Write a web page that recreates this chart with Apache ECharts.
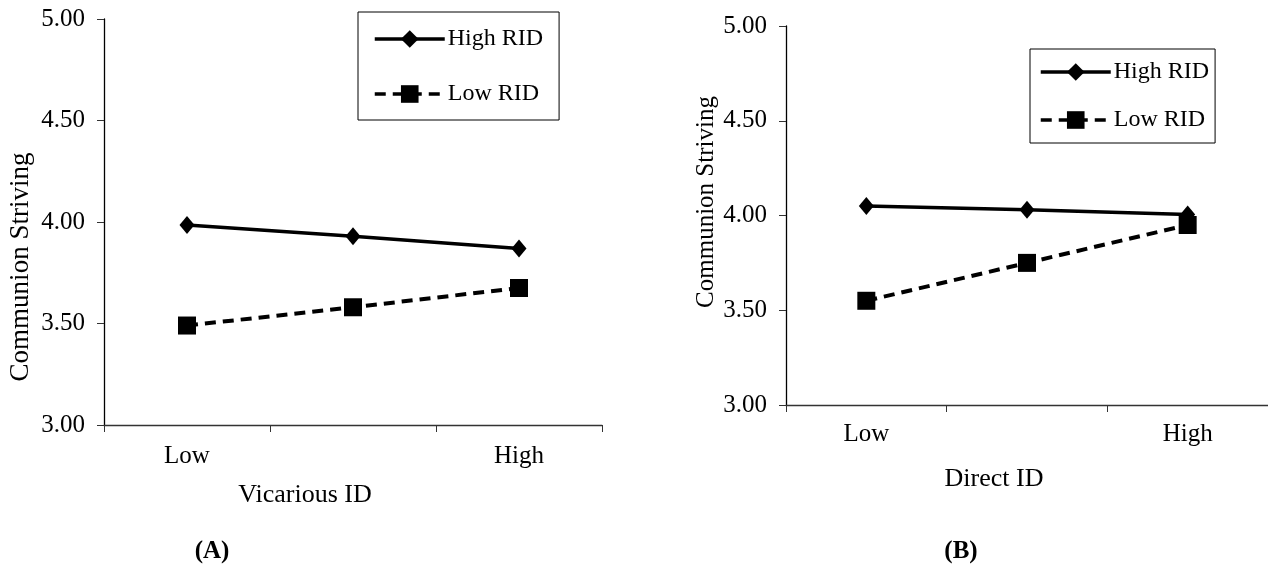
<!DOCTYPE html>
<html>
<head>
<meta charset="utf-8">
<script src="https://cdn.jsdelivr.net/npm/echarts@6/dist/echarts.min.js"></script>
<style>
html,body{margin:0;padding:0;background:#fff;}
#chart{width:1268px;height:575px;}
</style>
</head>
<body>
<div id="chart"></div>
<script>
// ---- data ----
const categories = ['Low', 'Medium', 'High'];
const tickLabels = ['Low', '', 'High'];
const yTicks = [3.0, 3.5, 4.0, 4.5, 5.0];
const seriesNames = ['High RID', 'Low RID'];
const panelA_high = [3.985, 3.93, 3.87];
const panelA_low = [3.49, 3.58, 3.675];
const panelB_high = [4.05, 4.03, 4.005];
const panelB_low = [3.55, 3.75, 3.95];
const yTitle = 'Communion Striving';
const xTitleA = 'Vicarious ID';
const xTitleB = 'Direct ID';
const panelLabels = ['(A)', '(B)'];

const FONT = 'Liberation Serif';
const chart = echarts.init(document.getElementById('chart'), null, {renderer: 'canvas'});

function xAxisCfg(gi, margin) {
  return {
    type: 'category', gridIndex: gi, data: categories, boundaryGap: true,
    axisLine: {lineStyle: {color: '#333', width: 1.3}},
    axisTick: {show: true, length: 7, lineStyle: {color: '#333'}},
    axisLabel: {
      color: '#000', fontFamily: FONT, fontSize: 25, margin: margin,
      formatter: (v, i) => tickLabels[i]
    },
    splitLine: {show: false}
  };
}
function yAxisCfg(gi) {
  return {
    type: 'value', gridIndex: gi, min: yTicks[0], max: yTicks[yTicks.length - 1], interval: 0.5,
    axisLine: {show: true, lineStyle: {color: '#000', width: 1.3}},
    axisTick: {show: true, length: 7, lineStyle: {color: '#333'}},
    axisLabel: {color: '#000', fontFamily: FONT, fontSize: 25, margin: 19,
      formatter: v => v.toFixed(2)},
    splitLine: {show: false}
  };
}
function lineSeries(name, data, gi, dashed) {
  return {
    name: name, type: 'line', xAxisIndex: gi, yAxisIndex: gi, data: data,
    symbol: dashed ? 'rect' : 'diamond',
    symbolSize: dashed ? 18 : [15, 18],
    itemStyle: {color: '#000'},
    lineStyle: {color: '#000', width: dashed ? 4 : 3.5, type: dashed ? [11, 7] : 'solid'},
    animation: false, z: dashed ? 3 : 4
  };
}
function legendCfg(left, top, padding, gap, names) {
  return {
    orient: 'vertical', left: left, top: top, padding: padding, itemGap: gap,
    itemWidth: 70, itemHeight: 22,
    borderColor: '#000', borderWidth: 1, backgroundColor: '#fff',
    lineStyle: {width: 3.5},
    textStyle: {color: '#000', fontFamily: FONT, fontSize: 24, padding: [0, 0, 0, -2]},
    data: names.map(n => ({name: n})),
    selectedMode: false
  };
}
function titleText(text, x, y, rot, weight, size) {
  return {
    type: 'text', x: x, y: y, rotation: rot ? Math.PI / 2 : 0,
    style: {text: text, fill: '#000', font: weight + ' ' + size + 'px "' + FONT + '"',
      textAlign: 'center', textVerticalAlign: 'middle'}
  };
}

const option = {
  backgroundColor: '#fff',
  animation: false,
  grid: [
    {left: 104, top: 19, width: 498, height: 406, containLabel: false},
    {left: 786, top: 26, width: 489, height: 379, containLabel: false}
  ],
  xAxis: [xAxisCfg(0, 19), xAxisCfg(1, 17)],
  yAxis: [yAxisCfg(0), yAxisCfg(1)],
  legend: [
    legendCfg(358, 12, [15, 16, 14, 15], 31, seriesNames),
    legendCfg(1030, 49, [11, 6, 11, 9], 24, seriesNames)
  ],
  series: [
    lineSeries(seriesNames[0], panelA_high, 0, false),
    lineSeries(seriesNames[1], panelA_low, 0, true),
    lineSeries(seriesNames[0], panelB_high, 1, false),
    lineSeries(seriesNames[1], panelB_low, 1, true)
  ],
  graphic: [
    titleText(yTitle, 21, 267, true, 'normal', 27),
    titleText(yTitle, 706, 202, true, 'normal', 25),
    titleText(xTitleA, 305, 495, false, 'normal', 26),
    titleText(xTitleB, 994, 479, false, 'normal', 26),
    titleText(panelLabels[0], 212, 552, false, 'bold', 25),
    titleText(panelLabels[1], 961, 552, false, 'bold', 25)
  ]
};
chart.setOption(option);
</script>
</body>
</html>
